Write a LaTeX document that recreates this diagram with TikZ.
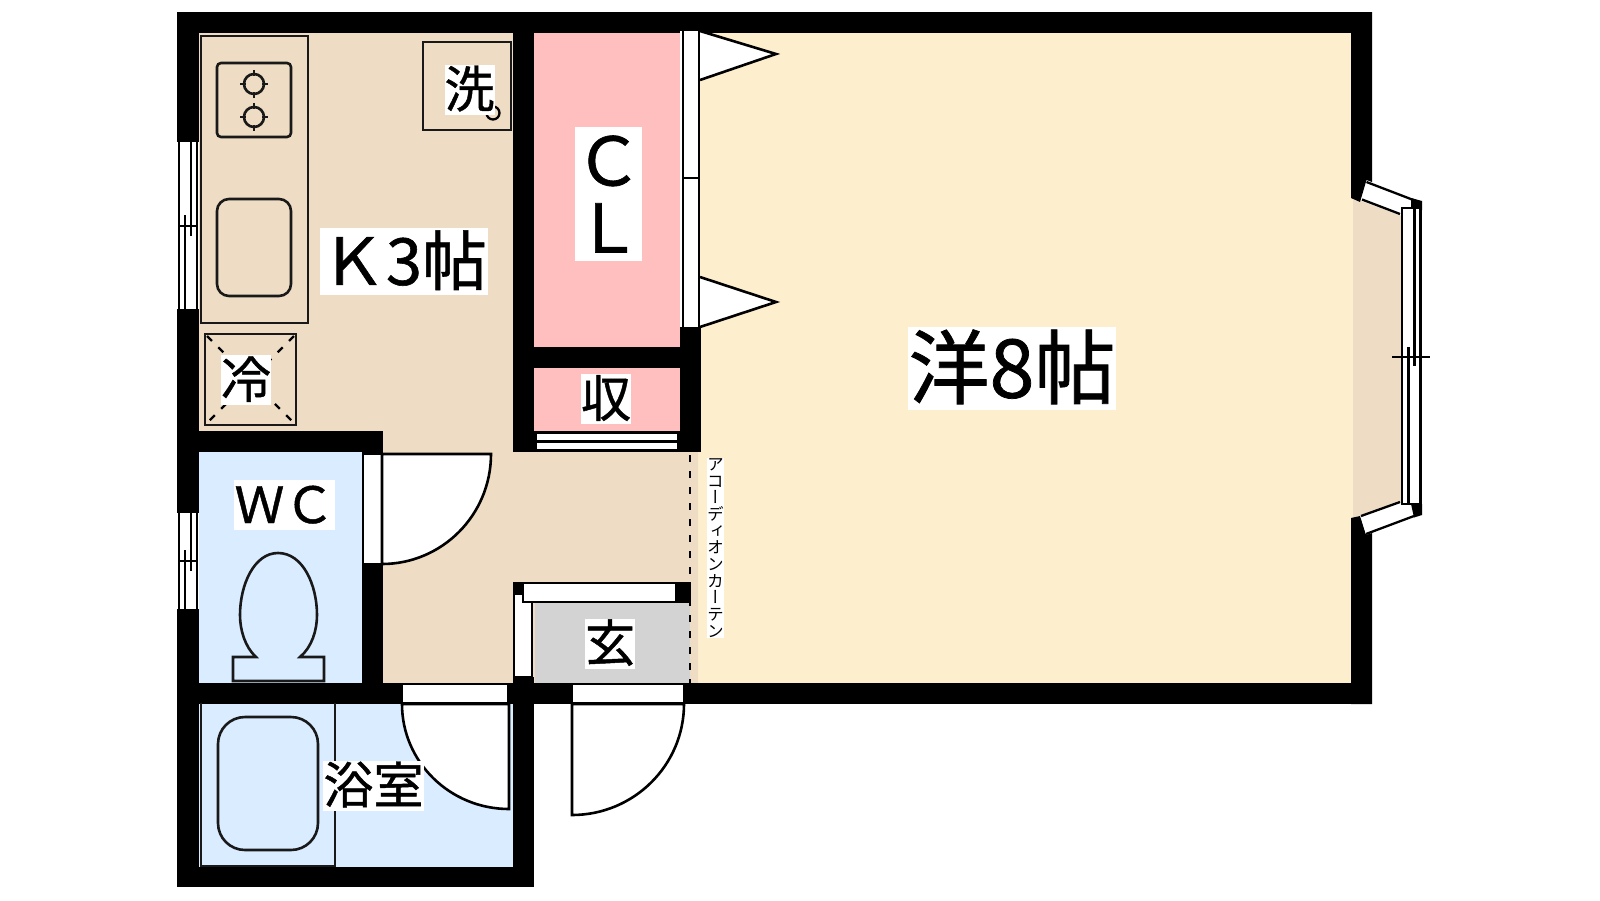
\documentclass[tikz,border=0pt]{standalone}
\usepackage{fontspec}
\setmainfont[RawFeature={embolden=0.9}]{Noto Sans CJK JP}
\newfontfamily\jpvert[RawFeature=+vert]{Noto Sans CJK JP}
\definecolor{kitchen}{RGB}{238,221,196}
\definecolor{western}{RGB}{253,239,206}
\definecolor{closet}{RGB}{255,191,191}
\definecolor{wet}{RGB}{218,236,255}
\definecolor{entry}{RGB}{211,211,211}
\begin{document}
\begin{tikzpicture}[x=1pt,y=-1pt,
	wall/.style={fill=black},
	fixture/.style={draw=black!90,line width=2.6pt},
	frame/.style={fill=white,draw=black,line width=2.3pt},
	leaf/.style={fill=white,draw=black,line width=2.6pt},
	tag/.style={fill=white,inner sep=0pt,font=\fontsize{#1}{#1}\selectfont,text height=.86*#1pt,text depth=.14*#1pt}]
	\useasboundingbox (0,0) rectangle (1600,900);

	% room floors
	\fill[western] (698,33) rectangle (1353,683);
	\fill[kitchen] (199,33) -- (513,33) -- (513,452) -- (698,452) -- (698,683) -- (383,683) -- (383,431) -- (199,431) -- cycle;
	\fill[kitchen] (1353,198) -- (1402,216) -- (1402,502) -- (1353,518) -- cycle;
	\fill[closet] (534,33) rectangle (680,347);
	\fill[closet] (534,368) rectangle (680,431);
	\fill[wet] (199,452) rectangle (362,683);
	\fill[wet] (199,704) rectangle (513,867);
	\fill[entry] (535,603) rectangle (690,683);

	% walls
	\fill[wall] (177,12) rectangle (1372,33);
	\fill[wall] (177,12) rectangle (199,142);
	\fill[wall] (177,309) rectangle (199,513);
	\fill[wall] (177,609) rectangle (199,887);
	\fill[wall] (177,867) rectangle (534,887);
	\fill[wall] (513,683) rectangle (534,887);
	\fill[wall] (177,431) rectangle (383,452);
	\fill[wall] (362,431) rectangle (383,683);
	\fill[wall] (177,683) rectangle (402,704);
	\fill[wall] (508,683) rectangle (572,704);
	\fill[wall] (684,683) rectangle (1372,704);
	\fill[wall] (513,12) rectangle (534,452);
	\fill[wall] (534,347) rectangle (680,368);
	\fill[wall] (680,327) rectangle (701,452);
	\fill[wall] (513,431) rectangle (701,452);
	\fill[wall] (1351,12) -- (1372,12) -- (1372,182) -- (1366.5,180) -- (1360,202) -- (1351,198) -- cycle;
	\fill[wall] (1351,704) -- (1372,704) -- (1372,533) -- (1366,535) -- (1360,516) -- (1351,518) -- cycle;
	\fill[wall] (513,677) rectangle (534,683);

	% side windows
	\foreach \t/\b/\m in {142/309/226,513/609/561}{
		\fill[white] (178,\t) rectangle (199,\b);
		\draw[line width=2.3pt] (179,\t) -- (179,\b);
		\draw[line width=2.3pt] (197,\t) -- (197,\b);
		\draw[line width=2.3pt] (191,\t) -- (191,\m+10);
		\draw[line width=2.3pt] (185,\m-11) -- (185,\b);
		\draw[line width=2.3pt] (178,\m) -- (197,\m);
	}

	% closet doors
	\draw[frame,draw=none] (680,31) rectangle (700,327);
	\draw[line width=2.3pt] (683,31) -- (683,327) (699,31) -- (699,327) (683,178) -- (699,178);
	\draw[leaf] (700,31) -- (776,54) -- (700,80);
	\draw[leaf] (700,277) -- (776,302) -- (700,327);
	\draw[frame] (536,433) rectangle (678,441);
	\draw[frame] (536,442) rectangle (678,450);

	% room doors
	\draw[frame] (363,454) rectangle (382,564);
	\draw[leaf] (382,454) -- (491,454) .. controls (491,515) and (442,564) .. (382,564) -- cycle;
	\draw[frame] (402,684) rectangle (508,703);
	\draw[leaf] (402,704) -- (509,704) -- (509,809) .. controls (450,809) and (402,762) .. (402,704) -- cycle;
	\draw[frame] (572,684) rectangle (684,703);
	\draw[leaf] (572,704) -- (684,704) .. controls (684,765) and (634,815) .. (572,815) -- cycle;
	\draw[frame] (514,594) rectangle (532,677);
	\draw[frame] (523,583) rectangle (676,602);
	\fill[wall] (513,582) rectangle (524,594);
	\fill[wall] (676,582) rectangle (691,603);
	\draw[line width=2.6pt,dash pattern=on 7pt off 9pt] (690,455) -- (690,683);

	% bay window
	\draw[frame,draw=none] (1366.5,182) -- (1416,201) -- (1402,214) -- (1362,199) -- cycle;
	\draw[line width=2.3pt] (1366.5,182) -- (1416,201) (1362,199.5) -- (1400,214);
	\draw[frame,draw=none] (1366,534) -- (1414,516) -- (1402,502) -- (1361,517) -- cycle;
	\draw[line width=2.3pt] (1366,534) -- (1414,516) (1361,516) -- (1400,502);
	\fill[wall] (1411,198) -- (1422,201) -- (1422,210) -- (1411,210) -- cycle;
	\fill[wall] (1411,504) -- (1422,504) -- (1422,515) -- (1414,517.5) -- cycle;
	\draw[frame] (1402,208) rectangle (1420.5,504);
	\draw[line width=2.3pt] (1414.5,208) -- (1414.5,366) (1408.5,347) -- (1408.5,504) (1392,357) -- (1430,357);

	% kitchen fittings
	\draw[fixture] (201,36) rectangle (308,323);
	\draw[fixture,rounded corners=4pt] (217,63) rectangle (291,137);
	\foreach \y in {84,117}{
		\draw[fixture] (254,\y) circle[radius=10pt];
		\draw[fixture] (254,\y-14) -- (254,\y-8) (254,\y+8) -- (254,\y+14) (240,\y) -- (246,\y) (262,\y) -- (268,\y);
	}
	\draw[fixture,rounded corners=12pt] (217,199) rectangle (291,296);
	\draw[fixture] (423,42) rectangle (511,130);
	\draw[line width=2.3pt] (493,113) circle[radius=6.5pt];
	\draw[fixture] (205,334) rectangle (296,425);
	\draw[line width=2.3pt,dash pattern=on 7pt off 9pt] (207,336) -- (294,423) (294,336) -- (207,423);

	% bathroom fittings
	\draw[fixture] (201,703) -- (201,866) -- (335,866) -- (335,703);
	\draw[fixture,rounded corners=27pt] (218,717) rectangle (318,850);
	\draw[fixture] (233,681) -- (233,657) -- (256,657) .. controls (245,647) and (240,630) .. (240,615) .. controls (240,585) and (254,553) .. (278,553) .. controls (303,553) and (317,585) .. (317,615) .. controls (317,630) and (312,647) .. (300,657) -- (324,657) -- (324,681) -- cycle;

	% room labels
	\node[tag=81,minimum width=208pt,minimum height=83pt] (western) at (1012,368.5) {洋8帖};
	\node[tag=65,minimum width=168pt,minimum height=67pt] (kitchen) at (404,261.5) {Ｋ3帖};
	\node[tag=50,minimum size=50pt] (washer) at (469.5,89.5) {洗};
	\node[tag=50,minimum size=50pt] (fridge) at (246,380) {冷};
	\node[tag=50,minimum width=101pt,minimum height=50pt] (toilet) at (284.5,505) {ＷＣ};
	\node[tag=50,minimum width=101pt,minimum height=50pt] (bath) at (373.5,785.5) {浴室};
	\node[fill=white,inner sep=0pt,align=center,font=\fontsize{67}{67}\selectfont,minimum width=67pt,minimum height=134pt] (cl) at (608.5,194) {Ｃ\\Ｌ};
	\node[tag=50,minimum size=50pt] (storage) at (606,399) {収};
	\node[tag=50,minimum size=50pt] (entrance) at (610,643.5) {玄};
	\node[fill=white,inner sep=0pt,align=center,font=\jpvert\fontsize{16.7}{16.7}\selectfont,minimum width=17pt] (curtain) at (715.5,548) {ア\\コ\\ー\\デ\\ィ\\オ\\ン\\カ\\ー\\テ\\ン};
\end{tikzpicture}
\end{document}
